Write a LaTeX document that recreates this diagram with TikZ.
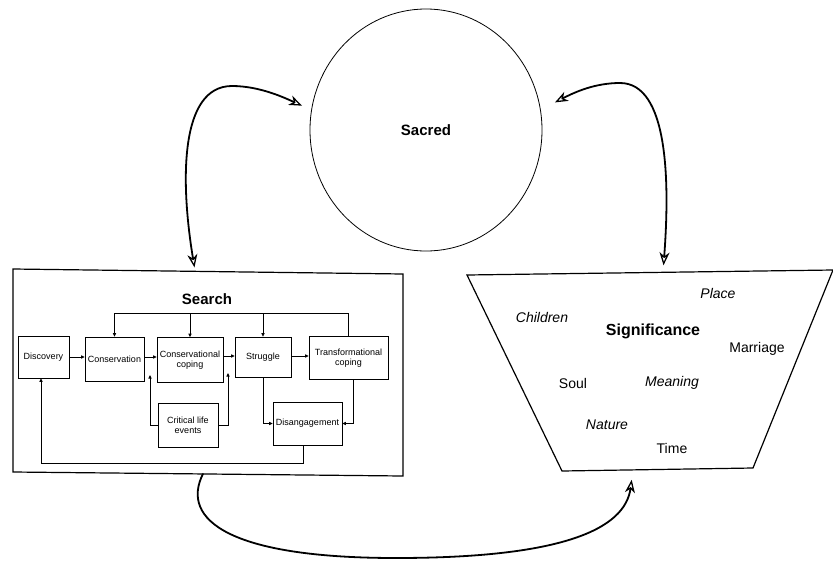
\documentclass[tikz,border=0pt]{standalone}
\usepackage{fontspec}
\setmainfont{Liberation Sans}
\usetikzlibrary{arrows.meta,shapes.geometric,calc}

\begin{document}
\begin{tikzpicture}[x=1pt,y=-1pt,
  frame/.style={draw, line width=1.2pt, line join=miter},
  bigarrow/.style={line width=1.8pt, line cap=round,
    {Stealth[open,length=13pt,width=10pt,inset=4pt,line width=1.3pt]}-{Stealth[open,length=13pt,width=10pt,inset=4pt,line width=1.3pt]}},
  onearrow/.style={line width=1.8pt, line cap=round,
    -{Stealth[open,length=13pt,width=10pt,inset=4pt,line width=1.3pt]}},
  stepbox/.style={draw, line width=0.8pt, inner sep=1pt, align=center,
    font=\fontsize{9}{10}\selectfont},
  flow/.style={line width=0.8pt, -{Triangle[length=3.5pt,width=3.2pt]}},
  word/.style={font=\fontsize{14}{16}\selectfont},
  iword/.style={font=\itshape\fontsize{14}{16}\selectfont},
  title/.style={font=\bfseries\fontsize{15}{18}\selectfont}
]
\useasboundingbox (0,0) rectangle (833,563);

% the sacred
\node[ellipse, draw, line width=0.8pt, minimum width=232, minimum height=242,
      title] (sacred) at (426,130) {Sacred};

% search frame (slightly skewed) and its process chart
\coordinate (sNW) at (13,269);
\coordinate (sNE) at (403,274);
\coordinate (sSE) at (403,476);
\coordinate (sSW) at (13,472);
\draw[frame] (sNW) -- (sNE) -- (sSE) -- (sSW) -- cycle;
\coordinate (sTop) at ($(sNW)!0.467!(sNE)$);
\coordinate (sBot) at ($(sSW)!0.487!(sSE)$);
\node[title] (searchlbl) at (207,299) {Search};

\node[stepbox, minimum width=51, minimum height=42] (disc)  at (43.5,357) {Discovery};
\node[stepbox, minimum width=59, minimum height=44] (cons)  at (114.5,359) {Conservation};
\node[stepbox, minimum width=66, minimum height=45] (ccop)  at (190,360) {Conservational\\coping};
\node[stepbox, minimum width=56, minimum height=40] (strug) at (263,357) {Struggle};
\node[stepbox, minimum width=79, minimum height=43] (tcop)  at (348.5,358) {Transformational\\coping};
\node[stepbox, minimum width=60, minimum height=44] (crit)  at (188,425) {Critical life\\events};
\node[stepbox, minimum width=69, minimum height=43] (dis)   at (307.5,423.5) {Disangagement};

\coordinate (j1) at (150,375);
\coordinate (j2) at (228,373);

\draw[flow] (disc.east |- 0,357) -- (cons.west |- 0,357);
\draw[flow] (cons.east |- 0,357) -- (ccop.west |- 0,357);
\draw[flow] (ccop.east |- 0,356) -- (strug.west |- 0,356);
\draw[flow] (strug.east |- 0,356) -- (tcop.west |- 0,356);

\draw[flow] (tcop.north) -- (tcop.north |- 0,313) -| (cons.north);
\draw[flow] (ccop.north |- 0,313) -- (ccop.north);
\draw[flow] (strug.north |- 0,313) -- (strug.north);

\draw[flow] (crit.west) -| (j1);
\draw[flow] (crit.east) -| (j2);

\draw[flow] (strug.south) |- (dis.west);
\draw[flow] ([xshift=4.5pt]tcop.south) |- (dis.east);
\draw[flow] ([xshift=-4.5pt]dis.south) -- ++(0,18) -| ([xshift=-2.5pt]disc.south);

% significance trapezoid
\draw[frame] (467,275) -- (833,270) -- (753,468) -- (562,471) -- cycle;
\coordinate (sigtop) at (663,272.3);
\coordinate (sigbot) at (633,469.9);

\node[title, font=\bfseries\fontsize{16}{18}\selectfont] (signif) at (653,331) {Significance};
\node[iword] (place)    at (718,293) {Place};
\node[iword] (children) at (542,317) {Children};
\node[word]  (marriage) at (757,349) {Marriage};
\node[word]  (soul)     at (573,383) {Soul};
\node[iword] (meaning)  at (672,383) {Meaning};
\node[iword] (nature)   at (607,425) {Nature};
\node[word]  (time)     at (672,448) {Time};

% connecting arrows
\draw[bigarrow, shorten <=4pt, shorten >=10pt]
  (sTop) .. controls (180,180) and (180,86) .. (232,86)
  .. controls (260,86) and (285,98) .. (sacred.170);
\draw[bigarrow, shorten <=16pt, shorten >=7pt]
  (sacred.10) .. controls (575,92) and (595,83) .. (620,83)
  .. controls (668,83) and (670,180) .. (sigtop);
\draw[onearrow, shorten >=10pt]
  (sBot) .. controls (180,520) and (230,558) .. (396,558)
  .. controls (560,558) and (625,530) .. (sigbot);
\end{tikzpicture}
\end{document}
